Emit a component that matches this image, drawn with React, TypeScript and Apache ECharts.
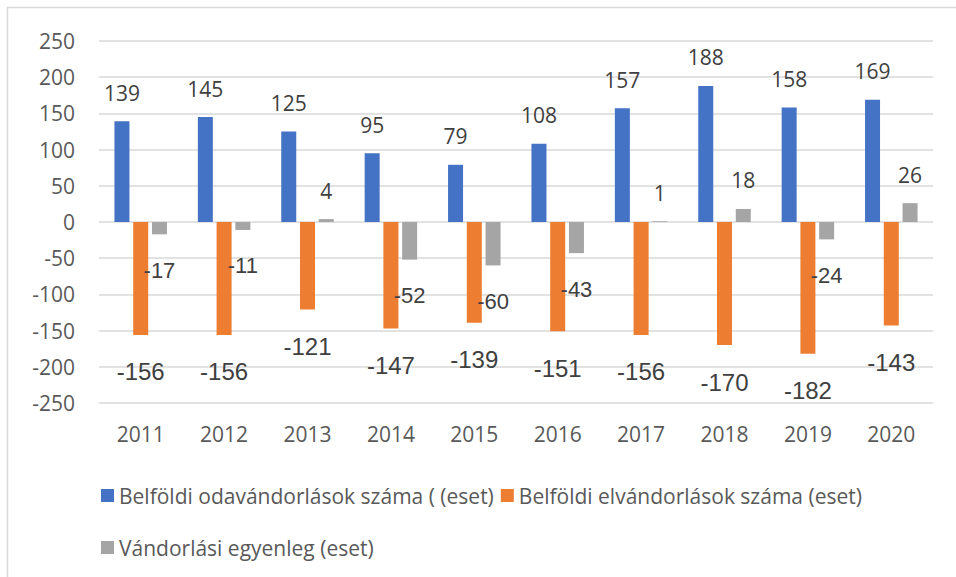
import React, { useEffect, useRef } from "react";
import * as echarts from "echarts";

const years = ["2011", "2012", "2013", "2014", "2015", "2016", "2017", "2018", "2019", "2020"];
const inflow = [139, 145, 125, 95, 79, 108, 157, 188, 158, 169];
const outflow = [-156, -156, -121, -147, -139, -151, -156, -170, -182, -143];
const balance = [-17, -11, 4, -52, -60, -43, 1, 18, -24, 26];

const seriesNames = [
  "Belföldi odavándorlások száma ( (eset)",
  "Belföldi elvándorlások száma (eset)",
  "Vándorlási egyenleg (eset)",
];
const colors = ["#4472C4", "#ED7D31", "#A5A5A5"];

const labelColor = "#404040";
const axisColor = "#595959";

function withLabels(vals: number[], negFont: number) {
  return vals.map((v) => ({
    value: v,
    label:
      v >= 0
        ? { position: "top", distance: 18, fontSize: 21, fontFamily: "Open Sans" }
        : { position: "bottom", distance: 25, fontSize: negFont, fontFamily: "Liberation Sans" },
  }));
}

export default function App() {
  const ref = useRef<HTMLDivElement>(null);
  useEffect(() => {
    if (!ref.current) return;
    const chart = echarts.init(ref.current, undefined, { renderer: "svg" });
    const baseLabel = { show: true, color: labelColor };
    chart.setOption({
      animation: false,
      backgroundColor: "#ffffff",
      grid: { left: 99, right: 23, top: 41, bottom: 174, containLabel: false },
      xAxis: {
        type: "category",
        data: years,
        axisLine: { show: false },
        axisTick: { show: false },
        axisLabel: { color: axisColor, fontSize: 21, fontFamily: "Open Sans", margin: 20 },
      },
      yAxis: {
        type: "value",
        min: -250,
        max: 250,
        interval: 50,
        axisLine: { show: false },
        axisTick: { show: false },
        axisLabel: { color: axisColor, fontSize: 21, fontFamily: "Open Sans", margin: 24 },
        splitLine: { lineStyle: { color: "#d9d9d9", width: 1.5 } },
      },
      legend: [
        {
          data: [seriesNames[0], seriesNames[1]],
          left: 96,
          top: 480,
          orient: "horizontal",
          itemWidth: 13,
          itemHeight: 13,
          itemGap: 7,
          icon: "rect",
          textStyle: { color: axisColor, fontSize: 21, fontFamily: "Open Sans" },
        },
        {
          data: [seriesNames[2]],
          left: 96,
          top: 532,
          itemWidth: 13,
          itemHeight: 13,
          icon: "rect",
          textStyle: { color: axisColor, fontSize: 21, fontFamily: "Open Sans" },
        },
      ],
      graphic: [
        { type: "line", shape: { x1: 7.5, y1: 7, x2: 7.5, y2: 577 }, style: { stroke: "#d9d9d9", lineWidth: 1.5 } },
        { type: "line", shape: { x1: 7, y1: 7.5, x2: 956, y2: 7.5 }, style: { stroke: "#d9d9d9", lineWidth: 1.5 } },
      ],
      series: [
        {
          name: seriesNames[0],
          type: "bar",
          data: withLabels(inflow, 22),
          barWidth: 15,
          barGap: "25%",
          itemStyle: { color: colors[0] },
          label: baseLabel,
        },
        {
          name: seriesNames[1],
          type: "bar",
          data: withLabels(outflow, 24),
          barWidth: 15,
          barGap: "25%",
          itemStyle: { color: colors[1] },
          label: baseLabel,
        },
        {
          name: seriesNames[2],
          type: "bar",
          data: withLabels(balance, 22),
          barWidth: 15,
          barGap: "25%",
          itemStyle: { color: colors[2] },
          label: baseLabel,
        },
      ],
    });
    return () => chart.dispose();
  }, []);
  return (
    <div
      ref={ref}
      style={{ position: "absolute", left: 0, top: 0, width: 956, height: 577, background: "#fff" }}
    />
  );
}
